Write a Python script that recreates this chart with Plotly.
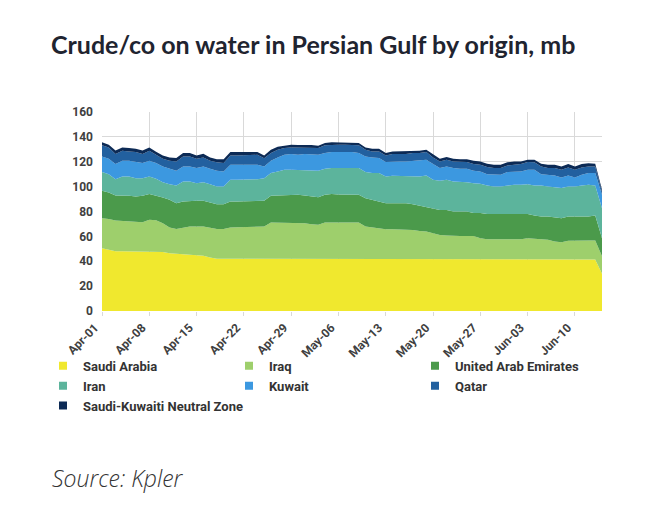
import pandas as pd
import plotly.graph_objects as go

# Daily dates, Apr-01 to Jun-14
dates = pd.date_range("2025-04-01", "2025-06-14", freq="D")

# Crude/condensate on water by origin, mb
saudi_arabia = [
    50.5, 49.0, 48.0, 48.0, 48.0, 48.0, 48.0, 48.0, 48.0, 47.5,
    46.5, 46.0, 45.5, 45.0, 45.0, 44.5, 43.0, 42.0, 42.0, 42.0,
    42.0, 42.0, 42.0, 42.0, 42.0, 42.0, 42.0, 42.0, 42.0, 42.0,
    42.0, 42.0, 42.0, 42.0, 42.0, 42.0, 42.0, 42.0, 42.0, 42.0,
    42.0, 42.0, 42.0, 42.0, 42.0, 42.0, 42.0, 42.0, 42.0, 42.0,
    41.5, 41.5, 41.5, 41.5, 41.5, 41.5, 41.5, 41.5, 41.5, 41.5,
    41.5, 41.5, 41.5, 41.5, 41.5, 41.5, 41.5, 41.5, 41.5, 41.5,
    41.5, 41.5, 41.5, 41.5, 30.0,
]
iraq = [
    24.1, 25.0, 24.8, 24.5, 24.5, 24.0, 23.4, 25.3, 25.0, 23.1,
    20.6, 20.0, 21.5, 22.9, 22.9, 23.4, 24.0, 24.0, 24.0, 25.1,
    25.3, 25.3, 25.3, 25.3, 25.9, 29.1, 29.1, 29.1, 29.1, 28.9,
    28.6, 27.8, 27.3, 29.1, 29.1, 29.1, 29.1, 29.1, 29.1, 25.9,
    25.1, 24.5, 23.8, 23.8, 23.8, 23.8, 23.2, 22.4, 21.9, 20.6,
    19.7, 19.2, 18.9, 18.9, 18.9, 18.9, 17.0, 16.2, 16.2, 16.2,
    16.2, 16.2, 16.2, 17.0, 16.5, 15.7, 15.7, 14.3, 13.8, 14.9,
    15.1, 15.1, 15.1, 15.1, 14.0,
]
uae = [
    22.0, 21.3, 20.1, 20.4, 20.1, 20.1, 21.2, 20.7, 19.9, 20.7,
    22.3, 20.7, 21.1, 20.7, 20.7, 20.7, 20.2, 19.9, 19.9, 21.0,
    20.8, 20.8, 20.8, 21.3, 20.7, 21.5, 21.8, 22.3, 22.3, 22.5,
    22.3, 22.3, 22.2, 22.3, 22.9, 22.6, 22.3, 22.3, 22.3, 22.8,
    22.3, 21.5, 20.9, 20.9, 20.9, 20.9, 20.7, 20.4, 19.3, 20.1,
    20.1, 20.6, 19.6, 19.6, 19.6, 18.3, 20.2, 20.2, 20.2, 19.6,
    19.6, 20.2, 20.2, 19.4, 18.8, 18.8, 18.8, 19.6, 19.3, 19.6,
    19.4, 19.4, 19.4, 20.2, 14.5,
]
iran = [
    15.1, 14.7, 13.1, 15.3, 15.6, 14.7, 14.2, 14.2, 13.4, 12.3,
    12.6, 14.3, 16.1, 15.6, 14.2, 15.0, 14.8, 14.2, 14.2, 17.4,
    17.4, 17.4, 17.4, 17.4, 18.2, 18.3, 19.3, 20.2, 20.2, 20.2,
    20.7, 20.9, 21.3, 21.0, 20.9, 21.2, 21.5, 21.5, 21.5, 21.0,
    21.5, 22.9, 21.5, 22.0, 22.0, 22.0, 22.8, 23.4, 25.8, 22.8,
    23.4, 24.2, 24.2, 24.2, 23.6, 24.1, 23.6, 23.0, 22.2, 22.8,
    23.6, 23.6, 23.6, 24.1, 24.1, 24.9, 24.1, 23.9, 24.2, 24.1,
    24.1, 24.9, 25.5, 24.1, 24.2,
]
kuwait = [
    12.6, 12.4, 12.1, 12.6, 12.6, 12.9, 12.1, 12.6, 12.6, 12.6,
    12.4, 11.8, 12.0, 12.0, 12.1, 12.6, 12.4, 12.7, 12.1, 12.1,
    12.1, 12.1, 12.1, 11.6, 9.4, 9.9, 11.3, 12.0, 12.6, 12.0,
    12.6, 13.2, 12.8, 12.6, 12.9, 12.9, 12.9, 12.9, 12.1, 12.6,
    12.6, 12.1, 11.5, 11.6, 11.6, 11.6, 12.1, 12.6, 12.6, 12.6,
    10.2, 10.7, 10.7, 10.2, 10.8, 10.0, 9.9, 9.1, 9.4, 9.4,
    10.8, 10.7, 10.7, 11.6, 12.7, 9.1, 9.4, 9.7, 8.6, 8.9,
    7.3, 8.6, 9.4, 10.0, 10.7,
]
qatar = [
    8.9, 9.1, 8.1, 8.1, 7.5, 8.1, 7.3, 8.1, 6.8, 6.2,
    6.4, 7.5, 8.1, 8.1, 7.5, 7.3, 6.4, 6.7, 6.7, 7.5,
    7.5, 7.5, 7.5, 8.0, 6.7, 6.2, 6.2, 5.4, 5.3, 5.9,
    5.3, 5.3, 5.4, 6.2, 5.9, 5.9, 5.9, 5.9, 6.2, 5.4,
    4.8, 5.3, 5.4, 5.9, 5.9, 5.9, 6.2, 6.2, 6.2, 5.4,
    5.4, 5.4, 5.4, 5.3, 5.3, 5.3, 5.4, 5.7, 5.4, 5.4,
    5.3, 5.4, 5.9, 6.1, 5.9, 6.2, 5.4, 5.9, 6.2, 6.4,
    6.2, 5.9, 5.3, 5.3, 2.2,
]
neutral_zone = [
    2.4, 2.2, 2.8, 2.6, 2.7, 2.7, 2.8, 2.6, 2.3, 2.6,
    2.7, 2.7, 2.7, 2.7, 2.6, 3.0, 2.7, 2.5, 3.1, 2.7,
    2.7, 2.7, 2.4, 2.2, 2.1, 2.7, 2.3, 2.0, 2.2, 1.9,
    2.2, 1.9, 1.9, 1.8, 1.9, 1.9, 1.9, 1.9, 1.8, 1.8,
    2.2, 2.2, 1.9, 2.1, 2.1, 2.1, 1.9, 1.9, 1.9, 2.7,
    2.1, 2.2, 2.1, 2.4, 2.4, 2.7, 2.7, 2.7, 2.7, 2.7,
    2.5, 2.7, 2.2, 1.9, 2.1, 2.2, 2.7, 2.7, 2.6, 2.7,
    2.6, 2.7, 2.5, 2.2, 1.8,
]

series = [
    ("Saudi Arabia", saudi_arabia, "#F0E82E"),
    ("Iraq", iraq, "#9ECF6C"),
    ("United Arab Emirates", uae, "#4B9A4B"),
    ("Iran", iran, "#5CB49C"),
    ("Kuwait", kuwait, "#3C98E0"),
    ("Qatar", qatar, "#22609F"),
    ("Saudi-Kuwaiti Neutral Zone", neutral_zone, "#0C2A55"),
]

fig = go.Figure()
for name, vals, color in series:
    # stacked area itself, kept out of the legend
    fig.add_trace(go.Scatter(
        x=dates, y=vals, name=name,
        mode="lines", stackgroup="one",
        line=dict(width=0, color=color),
        fillcolor=color, showlegend=False,
    ))
for name, vals, color in series:
    # legend-only entries so the legend shows small squares
    fig.add_trace(go.Scatter(
        x=[None], y=[None], name=name, mode="markers",
        marker=dict(symbol="square", size=8, color=color),
    ))

tick_font = dict(family="Roboto", size=12, color="#404040", weight="bold")

fig.update_layout(
    width=653, height=506,
    margin=dict(l=94, r=59, t=104, b=203),
    paper_bgcolor="white", plot_bgcolor="white",
    title=dict(
        text="Crude/co on water in Persian Gulf by origin, mb",
        font=dict(family="Lato", size=25, color="#1f2430", weight="bold"),
        x=43 / 653, xanchor="left", xref="container",
        y=1 - 37 / 506, yanchor="middle", yref="container",
        pad=dict(l=0, r=0, t=0, b=0),
    ),
    legend=dict(
        orientation="h",
        traceorder="normal",
        x=-0.118, xanchor="left",
        y=-0.2, yanchor="top",
        entrywidth=141, entrywidthmode="pixels",
        font=dict(family="Roboto", size=13, color="#333333", weight="bold"),
        itemwidth=30,
        tracegroupgap=0,
        bgcolor="rgba(0,0,0,0)",
    ),
    showlegend=True,
)

fig.update_xaxes(
    type="date",
    range=["2025-04-01", "2025-06-14"],
    tick0="2025-04-01", dtick=7 * 86400000,
    tickformat="%b-%d", tickangle=-45,
    tickfont=tick_font,
    ticklabelshift=-7, ticklabelstandoff=0,
    showgrid=True, gridcolor="#d9d9d9", gridwidth=1,
    ticks="outside", ticklen=4, tickcolor="#d9d9d9",
    showline=False, zeroline=False,
)
fig.update_yaxes(
    range=[0, 160], dtick=20,
    tickfont=tick_font,
    showgrid=True, gridcolor="#d9d9d9", gridwidth=1,
    zeroline=False, showline=False,
    ticks="", ticklabelstandoff=8,
)

fig.add_annotation(
    text="<i>Source: Kpler</i>",
    xref="paper", yref="paper",
    x=-52 / 500, y=-(470 - 303) / 199,
    xanchor="left", yanchor="middle",
    showarrow=False,
    font=dict(family="Open Sans", size=23, color="#333333", weight=300),
)

fig.write_html("out.html")
